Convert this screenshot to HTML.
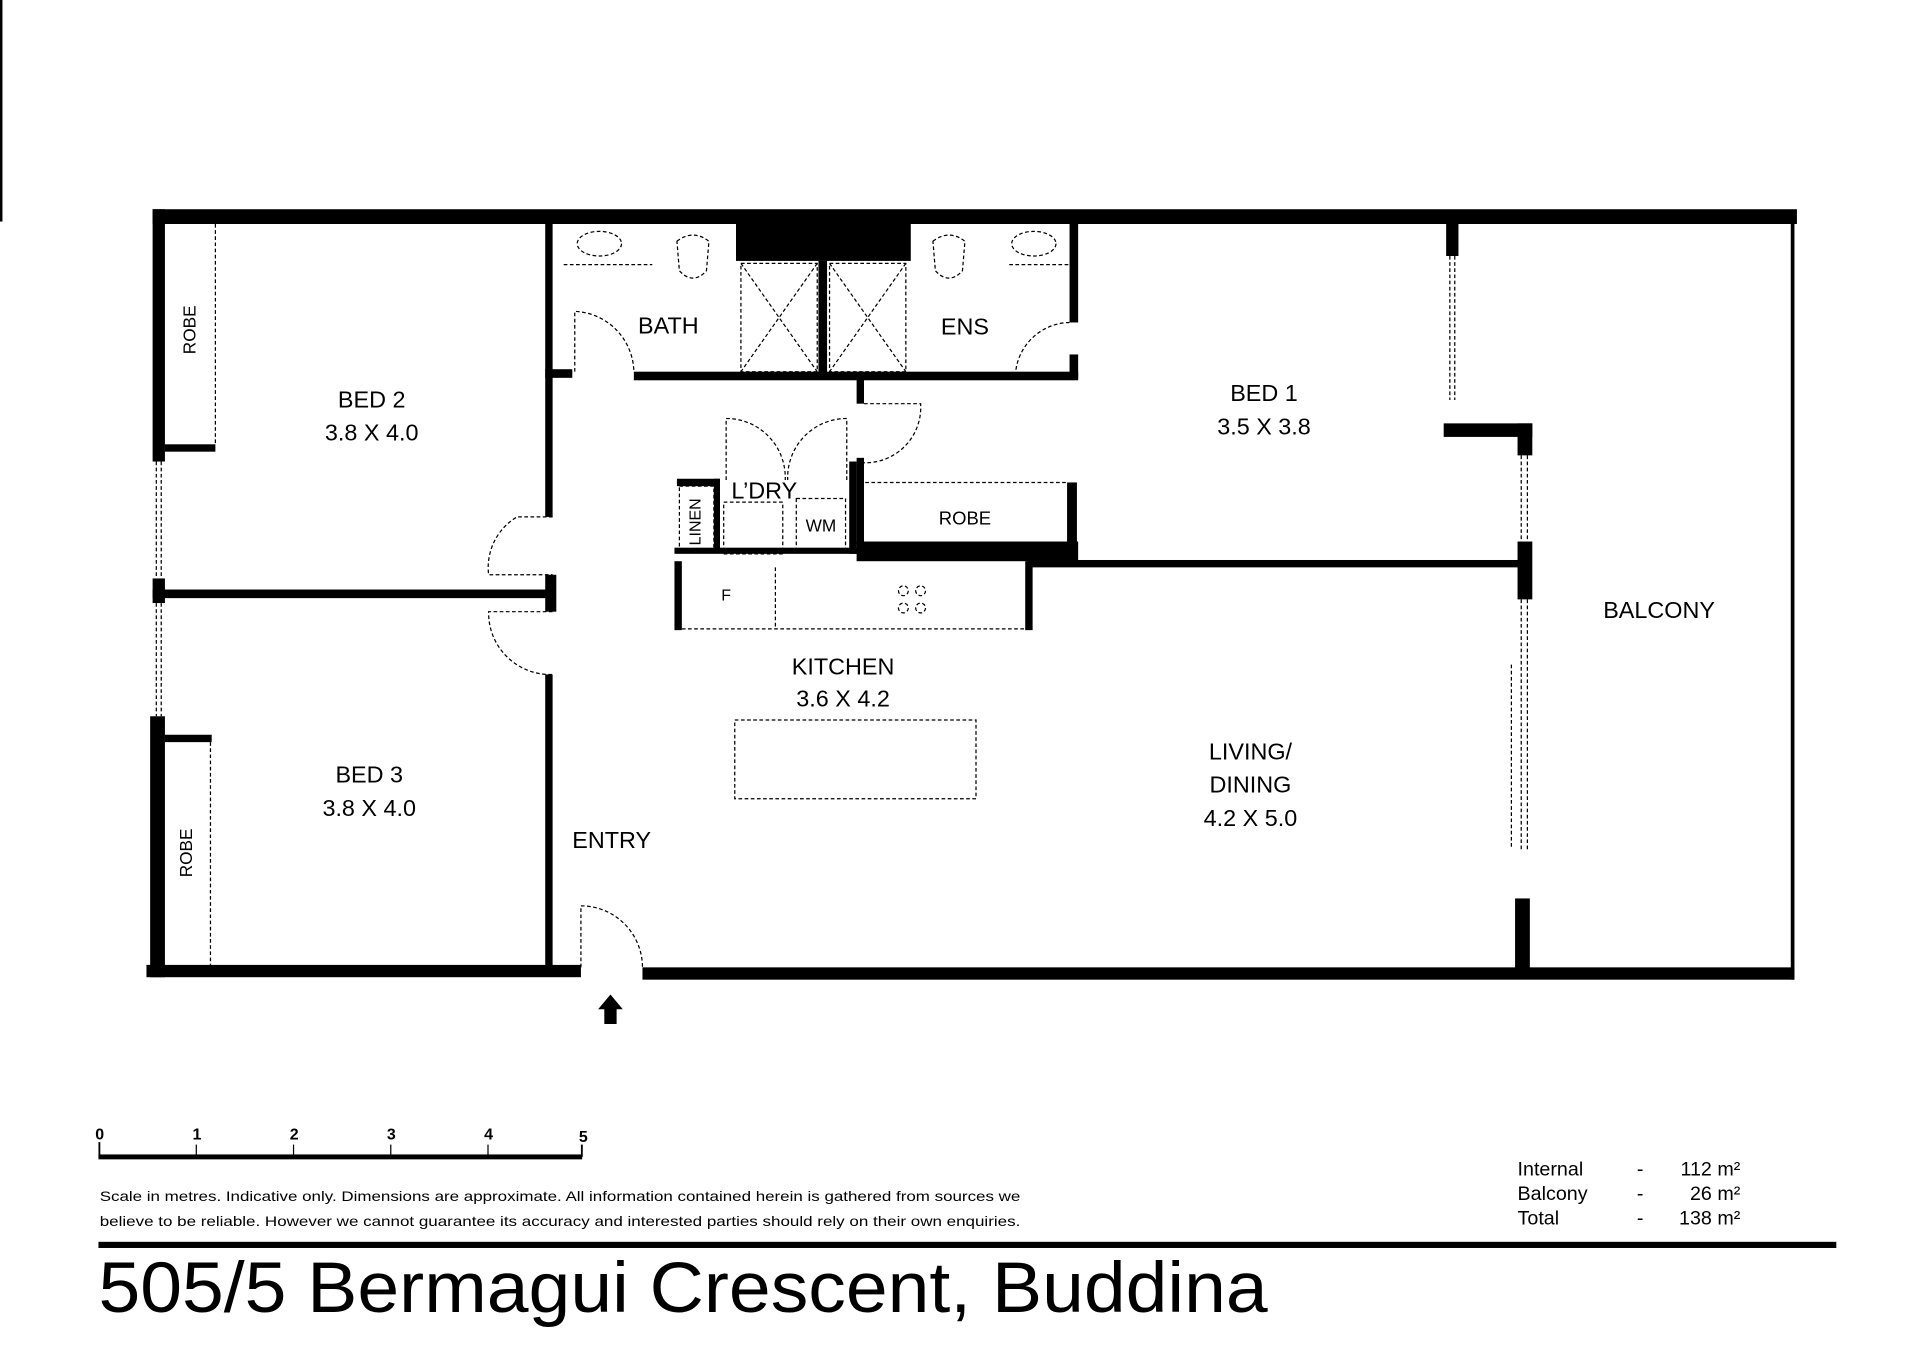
<!DOCTYPE html>
<html><head><meta charset="utf-8"><style>
html,body{margin:0;padding:0;background:#fff;}
svg{display:block;}
text{font-family:"Liberation Sans",sans-serif;fill:#000;}
</style></head><body>
<svg width="1920" height="1358" viewBox="0 0 1560 1103.4" preserveAspectRatio="none" xmlns="http://www.w3.org/2000/svg">
<rect x="0" y="0" width="1560" height="1104" fill="#fff"/>
<rect x="0" y="0" width="2" height="180" fill="#000"/>
<g fill="#000">
<!-- outer walls -->
<rect x="124" y="170" width="1336" height="12"/>
<rect x="124" y="170" width="10" height="205"/>
<rect x="124" y="470" width="10" height="20"/>
<rect x="122" y="582" width="12" height="212"/>
<rect x="119" y="784" width="353" height="10"/>
<rect x="522" y="786" width="936" height="10"/>
<rect x="1455" y="172" width="3" height="624"/>
<!-- bed2/bed3 divider -->
<rect x="124" y="479" width="325" height="7"/>
<!-- robes -->
<rect x="134" y="361" width="41" height="6"/>
<rect x="134" y="597" width="38" height="6"/>
<!-- entry corridor wall -->
<rect x="443" y="182" width="6" height="238"/>
<rect x="443" y="467" width="9" height="30"/>
<rect x="443" y="548" width="6" height="238"/>
<!-- bath/ens bottom -->
<rect x="443" y="300" width="22" height="7"/>
<rect x="515" y="302" width="361" height="7"/>
<rect x="696" y="302" width="6" height="26"/>
<!-- black block top -->
<rect x="598" y="182" width="142" height="30"/>
<rect x="665" y="212" width="7" height="92"/>
<!-- ens right wall -->
<rect x="869" y="182" width="7" height="80"/>
<rect x="869" y="288" width="7" height="20"/>
<!-- laundry/linen -->
<rect x="550" y="389" width="35" height="6"/>
<rect x="580" y="389" width="5" height="60"/>
<rect x="690" y="375" width="6" height="75"/>
<rect x="696" y="372" width="6" height="70"/>
<!-- robe/kitchen thick wall -->
<rect x="696" y="440" width="180" height="16"/>
<rect x="867" y="392" width="8" height="64"/>
<rect x="548" y="445" width="150" height="5"/>
<rect x="835" y="455" width="400" height="6"/>
<rect x="548" y="456" width="6" height="56"/>
<rect x="833" y="456" width="6" height="56"/>
<!-- balcony divider -->
<rect x="1175" y="182" width="10" height="26"/>
<rect x="1173" y="344" width="72" height="11"/>
<rect x="1233" y="344" width="12" height="26"/>
<rect x="1233" y="440" width="12" height="47"/>
<rect x="1231" y="730" width="12" height="60"/>
<!-- entry arrow -->
<polygon points="496,808 486,820 491,820 491,832 501,832 501,820 506,820"/>
<!-- scale bar -->
<rect x="80" y="938" width="393" height="4"/>
<rect x="80" y="928" width="1.5" height="12"/>
<rect x="159" y="930" width="1" height="10"/>
<rect x="238" y="930" width="1" height="10"/>
<rect x="317" y="930" width="1" height="10"/>
<rect x="396" y="930" width="1" height="10"/>
<rect x="472" y="930" width="1.5" height="10"/>
<rect x="80" y="1009" width="1412" height="5"/>
</g>
<g fill="none" stroke="#000" stroke-width="1" stroke-dasharray="3,2">
<!-- robes outline -->
<line x1="175" y1="182" x2="175" y2="362"/>
<line x1="171" y1="603" x2="171" y2="784"/>
<!-- windows left -->
<line x1="127" y1="375" x2="127" y2="470"/><line x1="131" y1="375" x2="131" y2="470"/>
<line x1="127" y1="490" x2="127" y2="582"/><line x1="131" y1="490" x2="131" y2="582"/>
<!-- doors -->
<path d="M449 420 L420 420 A48 48 0 0 0 397 467 L449 467"/>
<path d="M449 497 L397 497 A50 50 0 0 0 449 548"/>
<path d="M467 302 L467 253 A50 50 0 0 1 515 302"/>
<path d="M472 786 L472 736 A50 50 0 0 1 522 786"/>
<path d="M869 262 A45 45 0 0 0 825 305 L869 305"/>
<path d="M702 328 L748 328 A45 45 0 0 1 702 376"/>
<path d="M590 390 L590 340 A48 48 0 0 1 638 390"/>
<path d="M688 390 L688 340 A48 48 0 0 0 640 390"/>
<!-- showers -->
<rect x="602" y="214" width="62" height="88"/>
<rect x="674" y="214" width="62" height="88"/>
<path d="M602 214 L664 302 M664 214 L602 302 M674 214 L736 302 M736 214 L674 302"/>
<!-- fixtures -->
<ellipse cx="487" cy="198" rx="18" ry="10"/>
<ellipse cx="840" cy="198" rx="18" ry="10"/>
<path d="M458 215 L530 215"/><path d="M820 215 L868 215"/>
<path d="M550 196 Q563 186 576 196 L574 220 Q563 232 552 220 Z"/>
<path d="M758 196 Q771 186 784 196 L782 220 Q771 232 760 220 Z"/>
<!-- laundry -->
<rect x="588" y="408" width="48" height="42"/>
<rect x="647" y="405" width="40" height="44"/>
<rect x="552" y="395" width="28" height="54"/>
<line x1="698" y1="392" x2="867" y2="392"/>
<!-- kitchen -->
<line x1="554" y1="511" x2="833" y2="511"/>
<line x1="630" y1="461" x2="630" y2="511"/>
<circle cx="734" cy="480" r="4"/><circle cx="748" cy="480" r="4"/>
<circle cx="734" cy="494" r="4"/><circle cx="748" cy="494" r="4"/>
<rect x="597" y="585" width="196" height="64"/>
<!-- sliding doors -->
<line x1="1178" y1="208" x2="1178" y2="325"/><line x1="1182" y1="208" x2="1182" y2="325"/>
<line x1="1236" y1="370" x2="1236" y2="440"/><line x1="1241" y1="370" x2="1241" y2="440"/>
<line x1="1236" y1="487" x2="1236" y2="690"/><line x1="1241" y1="487" x2="1241" y2="690"/>
<line x1="1228" y1="540" x2="1228" y2="690"/>
</g>
<g text-anchor="middle" font-size="19">
<text x="302" y="331">BED 2</text><text x="302" y="358">3.8 X 4.0</text>
<text x="300" y="636">BED 3</text><text x="300" y="663">3.8 X 4.0</text>
<text x="1027" y="326">BED 1</text><text x="1027" y="353">3.5 X 3.8</text>
<text x="685" y="548">KITCHEN</text><text x="685" y="574">3.6 X 4.2</text>
<text x="1016" y="617">LIVING/</text><text x="1016" y="644">DINING</text><text x="1016" y="671">4.2 X 5.0</text>
<text x="497" y="689">ENTRY</text>
<text x="543" y="271">BATH</text>
<text x="784" y="272">ENS</text>
<text x="621" y="405">L’DRY</text>
<text x="1348" y="502">BALCONY</text>
<text x="784" y="426" font-size="15">ROBE</text>
<text x="667" y="432" font-size="14">WM</text>
<text x="590" y="488" font-size="13">F</text>
<text transform="translate(159,268) rotate(-90)" font-size="14">ROBE</text>
<text transform="translate(156,693) rotate(-90)" font-size="14">ROBE</text>
<text transform="translate(569,424) rotate(-90)" font-size="13">LINEN</text>
</g>
<g font-size="13" font-weight="bold" text-anchor="middle">
<text x="81" y="926">0</text><text x="160" y="926">1</text><text x="239" y="926">2</text><text x="318" y="926">3</text><text x="397" y="926">4</text><text x="474" y="928">5</text>
</g>
<g font-size="11.5">
<text x="81" y="976" textLength="748" lengthAdjust="spacingAndGlyphs">Scale in metres. Indicative only. Dimensions are approximate. All information contained herein is gathered from sources we</text>
<text x="81" y="996" textLength="748" lengthAdjust="spacingAndGlyphs">believe to be reliable. However we cannot guarantee its accuracy and interested parties should rely on their own enquiries.</text>
</g>
<g font-size="16">
<text x="1233" y="955">Internal</text><text x="1330" y="955">-</text><text x="1414" y="955" text-anchor="end">112 m²</text>
<text x="1233" y="975">Balcony</text><text x="1330" y="975">-</text><text x="1414" y="975" text-anchor="end">26 m²</text>
<text x="1233" y="995">Total</text><text x="1330" y="995">-</text><text x="1414" y="995" text-anchor="end">138 m²</text>
</g>
<text x="80" y="1066" font-size="58" textLength="950" lengthAdjust="spacingAndGlyphs">505/5 Bermagui Crescent, Buddina</text>
</svg>
</body></html>
